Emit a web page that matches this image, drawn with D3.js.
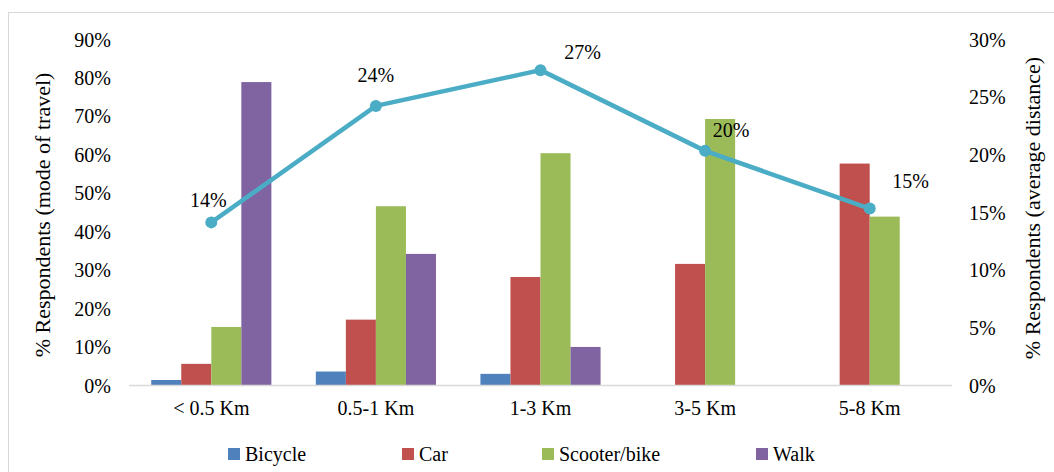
<!DOCTYPE html>
<html>
<head>
	<script src="https://cdn.jsdelivr.net/npm/d3@7"></script>
	<style>
		html, body { padding: 0; margin: 0; background: #fff; }
	</style>
</head>
<body>
	<script>
		var categories = ["< 0.5 Km", "0.5-1 Km", "1-3 Km", "3-5 Km", "5-8 Km"];
		var seriesNames = ["Bicycle", "Car", "Scooter/bike", "Walk"];
		var bicycle = [1.3, 3.5, 2.9, 0, 0];
		var car = [5.5, 17.0, 28.1, 31.5, 57.6];
		var scooter = [15.1, 46.5, 60.3, 69.2, 43.8];
		var walk = [78.8, 34.1, 9.9, 0, 0];
		var distance = [14.1, 24.2, 27.3, 20.3, 15.3];
		var distanceLabels = ["14%", "24%", "27%", "20%", "15%"];
		var leftTicks = [0, 10, 20, 30, 40, 50, 60, 70, 80, 90];
		var rightTicks = [0, 5, 10, 15, 20, 25, 30];

		var colors = ["#4F81BD", "#C0504D", "#9BBB59", "#8064A2"];
		var lineColor = "#4BACC6";
		var fontFam = "'Liberation Serif', 'Times New Roman', Times, 'DejaVu Serif', serif";
		// manual label nudges, like in the original
		var labelDx = [-3, 0, 42, 26, 41];
		var labelDy = [-22, -31, -18, -21, -28];

		var width = 1054, height = 472;
		var svg = d3.select("body").append("svg")
			.attr("width", width)
			.attr("height", height)
			.style("font-family", fontFam);

		// outer frame
		svg.append("rect")
			.attr("x", 8.5).attr("y", 12.5)
			.attr("width", width).attr("height", height)
			.attr("fill", "none").attr("stroke", "#D9D9D9");

		var plotLeft = 129, plotRight = 952, plotTop = 39, plotBottom = 385;

		var x = d3.scaleBand().domain(categories).range([plotLeft, plotRight]).paddingInner(0.27).paddingOuter(0.135);
		var xs = d3.scaleBand().domain(seriesNames).range([0, x.bandwidth()]);
		var yL = d3.scaleLinear().domain([0, 90]).range([plotBottom, plotTop]);
		var yR = d3.scaleLinear().domain([0, 30]).range([plotBottom, plotTop]);

		var series = [bicycle, car, scooter, walk];

		// bars
		series.forEach(function (vals, si) {
			svg.append("g").selectAll("rect")
				.data(vals)
				.join("rect")
				.attr("x", function (d, i) { return x(categories[i]) + xs(seriesNames[si]); })
				.attr("width", xs.bandwidth())
				.attr("y", function (d) { return yL(d); })
				.attr("height", function (d) { return plotBottom - yL(d); })
				.attr("fill", colors[si]);
		});

		// baseline
		svg.append("line")
			.attr("x1", plotLeft).attr("x2", plotRight)
			.attr("y1", plotBottom + 0.5).attr("y2", plotBottom + 0.5)
			.attr("stroke", "#D9D9D9").attr("stroke-width", 1.5);

		// left axis
		var axL = svg.append("g")
			.attr("transform", "translate(" + 111 + ",0)")
			.call(d3.axisLeft(yL).tickValues(leftTicks).tickSize(0).tickPadding(0).tickFormat(function (d) { return d + "%"; }));
		axL.select(".domain").remove();

		// right axis
		var axR = svg.append("g")
			.attr("transform", "translate(" + 969 + ",0)")
			.call(d3.axisRight(yR).tickValues(rightTicks).tickSize(0).tickPadding(0).tickFormat(function (d) { return d + "%"; }));
		axR.select(".domain").remove();

		// x axis labels
		var axB = svg.append("g")
			.attr("transform", "translate(0," + (plotBottom + 16) + ")")
			.call(d3.axisBottom(x).tickSize(0).tickPadding(0));
		axB.select(".domain").remove();
		axB.selectAll("text").attr("dy", "0.71em");

		[axL, axR, axB].forEach(function (ax) {
			ax.attr("font-family", null).attr("font-size", null);
			ax.selectAll("text")
				.style("font-family", fontFam)
				.style("font-size", "20px")
				.attr("fill", "#000");
		});
		axL.selectAll("text").attr("dy", "0.35em");
		axR.selectAll("text").attr("dy", "0.35em");

		// axis titles
		svg.append("text")
			.attr("transform", "translate(42," + 215 + ") rotate(-90)")
			.attr("text-anchor", "middle")
			.attr("dy", "0.35em")
			.style("font-size", "22px")
			.text("% Respondents (mode of travel)");
		svg.append("text")
			.attr("transform", "translate(1032," + 208 + ") rotate(-90)")
			.attr("text-anchor", "middle")
			.attr("dy", "0.35em")
			.style("font-size", "22px")
			.text("% Respondents (average distance)");

		// line
		var cx = function (d, i) { return x(categories[i]) + x.bandwidth() / 2; };
		var line = d3.line().x(cx).y(function (d) { return yR(d); });
		svg.append("path")
			.datum(distance)
			.attr("d", line)
			.attr("fill", "none")
			.attr("stroke", lineColor)
			.attr("stroke-width", 4.5)
			.attr("stroke-linejoin", "round");
		svg.append("g").selectAll("circle")
			.data(distance)
			.join("circle")
			.attr("cx", cx)
			.attr("cy", function (d) { return yR(d); })
			.attr("r", 6)
			.attr("fill", lineColor);

		// data labels
		svg.append("g").selectAll("text")
			.data(distance)
			.join("text")
			.attr("x", function (d, i) { return cx(d, i) + labelDx[i]; })
			.attr("y", function (d, i) { return yR(d) + labelDy[i]; })
			.attr("dy", "0.35em")
			.attr("text-anchor", "middle")
			.style("font-size", "20px")
			.text(function (d, i) { return distanceLabels[i]; });

		// legend
		var legendX = [228, 402, 542, 756];
		var lg = svg.append("g").selectAll("g")
			.data(seriesNames)
			.join("g")
			.attr("transform", function (d, i) { return "translate(" + legendX[i] + ",448)"; });
		lg.append("rect")
			.attr("width", 12).attr("height", 12)
			.attr("fill", function (d, i) { return colors[i]; });
		lg.append("text")
			.attr("x", 17).attr("y", 6)
			.attr("dy", "0.35em")
			.style("font-size", "20px")
			.text(function (d) { return d; });
	</script>
</body>
</html>
